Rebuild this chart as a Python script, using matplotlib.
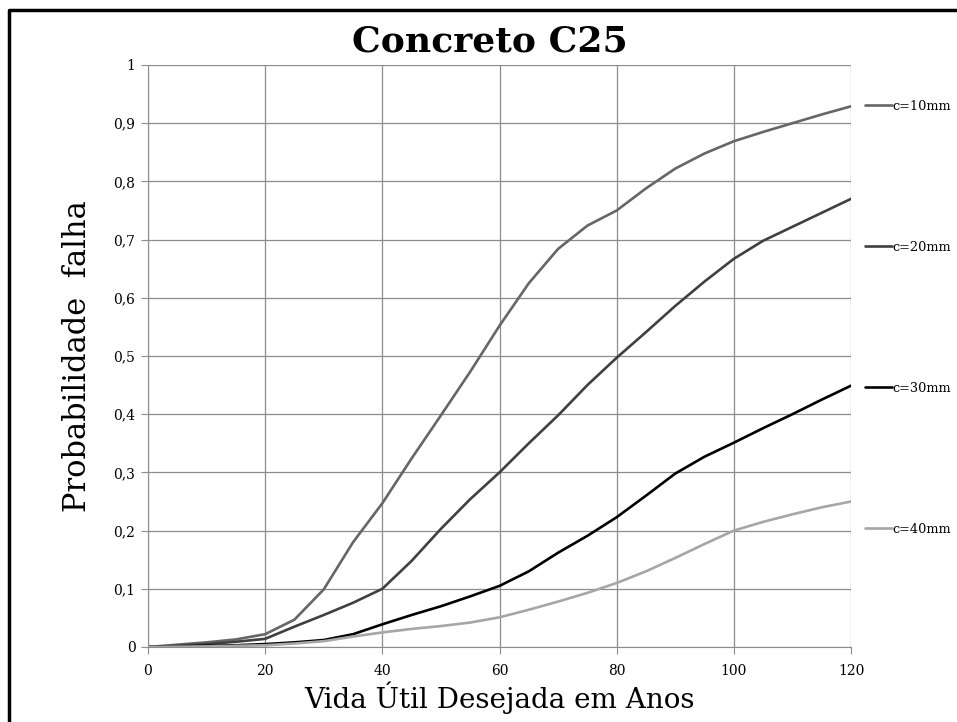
import matplotlib
matplotlib.use('Agg')
import matplotlib.pyplot as plt
from matplotlib.ticker import FuncFormatter
from matplotlib.lines import Line2D

plt.rcParams['font.family'] = ['DejaVu Serif']

# Data (every 5 years)
anos = list(range(0, 121, 5))
c10 = [0, 0.004, 0.008, 0.013, 0.022, 0.047, 0.099, 0.18, 0.247, 0.324, 0.398, 0.473, 0.552,
       0.625, 0.684, 0.724, 0.75, 0.788, 0.822, 0.848, 0.869, 0.885, 0.90, 0.915, 0.929]
c20 = [0, 0.002, 0.005, 0.009, 0.014, 0.035, 0.055, 0.076, 0.10, 0.148, 0.203, 0.254, 0.30,
       0.35, 0.398, 0.45, 0.497, 0.541, 0.586, 0.628, 0.667, 0.698, 0.722, 0.746, 0.770]
c30 = [0, 0.001, 0.002, 0.003, 0.005, 0.008, 0.012, 0.022, 0.039, 0.055, 0.07, 0.087, 0.105,
       0.13, 0.162, 0.191, 0.223, 0.26, 0.298, 0.327, 0.351, 0.376, 0.40, 0.425, 0.449]
c40 = [0, 0.0005, 0.001, 0.002, 0.003, 0.006, 0.01, 0.018, 0.025, 0.031, 0.036, 0.042, 0.051,
       0.064, 0.078, 0.093, 0.11, 0.13, 0.153, 0.177, 0.20, 0.215, 0.228, 0.24, 0.25]

series = [
    ('c=10mm', c10, '#666666'),
    ('c=20mm', c20, '#404040'),
    ('c=30mm', c30, '#000000'),
    ('c=40mm', c40, '#a6a6a6'),
]

fig = plt.figure(figsize=(9.57, 7.22), dpi=100)
ax = fig.add_axes([148 / 957, 1 - 647 / 722, (851 - 148) / 957, (647 - 65) / 722])

for label, vals, color in series:
    ax.plot(anos, vals, color=color, lw=1.9, label=label,
            solid_capstyle='round', solid_joinstyle='round')

ax.set_xlim(0, 120)
ax.set_ylim(0, 1)
ax.set_xticks(range(0, 121, 20))
ax.set_yticks([i / 10 for i in range(11)])
ax.yaxis.set_major_formatter(FuncFormatter(
    lambda v, p: '0' if v == 0 else ('1' if v == 1 else ('%.1f' % v).replace('.', ','))))
ax.grid(True, color='#8c8c8c', lw=0.9)
ax.set_axisbelow(True)
for s in ['top', 'right']:
    ax.spines[s].set_visible(False)
for s in ['left', 'bottom']:
    ax.spines[s].set_color('#8c8c8c')
ax.tick_params(axis='both', colors='#8c8c8c', labelcolor='black', labelsize=10, length=5, direction='out')
ax.tick_params(axis='x', pad=7)
ax.tick_params(axis='y', pad=4)

ax.set_xlabel('Vida Útil Desejada em Anos', fontsize=20, va='center')
ax.xaxis.set_label_coords(0.5, -(698 - 647) / 582)
ax.set_ylabel('Probabilidade  falha', fontsize=22, va='center')
ax.yaxis.set_label_coords(-(148 - 78) / 703, 0.5)
fig.text(0.512, 0.943, 'Concreto C25', fontsize=26, fontweight='bold', ha='center', va='center')

leg = fig.legend(loc='upper left', bbox_to_anchor=(865 / 957, 1 - 100 / 722), frameon=False,
                 fontsize=9.3, handlelength=2.1, handletextpad=0.0, labelspacing=9.9,
                 borderaxespad=0, borderpad=0)

# outer frame: only top and left edges are visible in the reference
fig.lines.append(Line2D([9 / 957, 9 / 957, 1], [0, 1 - 10 / 722, 1 - 10 / 722],
                        transform=fig.transFigure, color='black', lw=2.5))

fig.savefig('out.png', dpi=100)
